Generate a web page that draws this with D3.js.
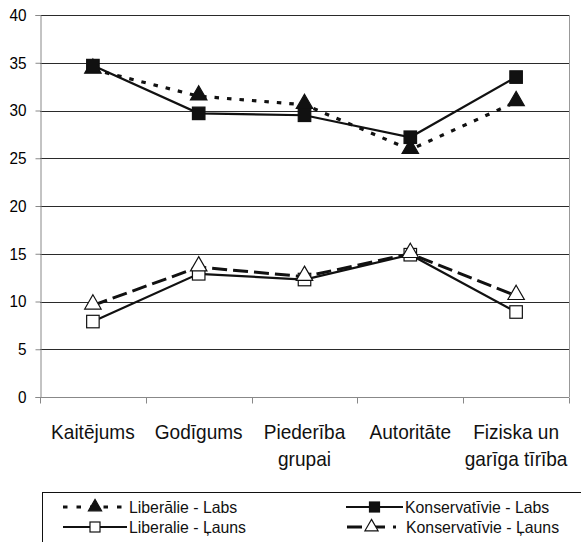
<!DOCTYPE html>
<html><head><meta charset="utf-8">
<script src="https://cdn.jsdelivr.net/npm/d3@7"></script>
<style>body{margin:0;background:#fff}svg{display:block}svg text{font-family:"Liberation Sans",Arial,sans-serif}</style>
</head><body>
<script>
const categories = [["Kaitējums"],["Godīgums"],["Piederība","grupai"],["Autoritāte"],["Fiziska un","garīga tīrība"]];
const yTicks = [0,5,10,15,20,25,30,35,40];
const liberaliLabs = [34.3, 31.5, 30.6, 25.9, 30.9];
const konservativieLabs = [34.7, 29.7, 29.5, 27.2, 33.5];
const liberaliLauns = [7.9, 12.9, 12.3, 14.9, 8.9];
const konservativieLauns = [9.6, 13.6, 12.6, 15.0, 10.6];
const seriesNames = ["Liberālie - Labs","Konservatīvie - Labs","Liberalie - Ļauns","Konservatīvie - Ļauns"];

const W=581,H=542;
const svg=d3.select("body").append("svg").attr("width",W).attr("height",H);
const m={l:40,r:569,t:15,b:397};
const x=d3.scaleBand().domain(d3.range(categories.length)).range([m.l,m.r]);
const y=d3.scaleLinear().domain([0,40]).range([m.b,m.t]);

svg.append("g").selectAll("line").data(yTicks.filter(d=>d>0)).join("line")
 .attr("x1",m.l).attr("x2",m.r).attr("y1",d=>Math.round(y(d))+0.5).attr("y2",d=>Math.round(y(d))+0.5)
 .attr("stroke","#2a2a2a").attr("stroke-width",1);
svg.append("line").attr("x1",m.r+0.5).attr("x2",m.r+0.5).attr("y1",m.t).attr("y2",m.b).attr("stroke","#999");

const ya=svg.append("g").attr("transform",`translate(${m.l+0.5},0)`)
 .call(d3.axisLeft(y).tickValues(yTicks).tickSize(5).tickPadding(9));
ya.attr("font-family",null);
ya.select(".domain").attr("stroke","#888");
ya.selectAll(".tick line").attr("stroke","#888");
ya.selectAll("text").attr("font-size",17).attr("fill","#000")
  .attr("x",-14/0.9).attr("transform","scale(0.9,1)");

const xa=svg.append("g").attr("transform",`translate(0,${m.b+0.5})`);
xa.append("line").attr("x1",m.l).attr("x2",m.r).attr("stroke","#888");
const edges=d3.range(categories.length+1).map(i=>m.l+i*x.step());
xa.selectAll("line.t").data(edges).join("line").attr("class","t")
 .attr("x1",d=>Math.round(d)+0.5).attr("x2",d=>Math.round(d)+0.5).attr("y1",0).attr("y2",6).attr("stroke","#888");
const labs=xa.selectAll("text").data(categories).join("text")
 .attr("text-anchor","middle").attr("font-size",20.5).attr("fill","#111")
 .attr("transform",(d,i)=>`translate(${x(i)+x.bandwidth()/2},0) scale(0.93,1)`);
labs.each(function(d){
  d3.select(this).selectAll("tspan").data(d).join("tspan").attr("x",0).attr("y",(t,j)=>42+j*27).text(t=>t);
});

const cx=i=>x(i)+x.bandwidth()/2;
const line=d3.line().x((d,i)=>cx(i)).y(d=>y(d));
const series=[
 {v:liberaliLabs,dash:"4.5,8",w:3.2,marker:"tri",fill:"#111"},
 {v:konservativieLabs,dash:null,w:2.2,marker:"sq",fill:"#111"},
 {v:liberaliLauns,dash:null,w:2.2,marker:"sq",fill:"#fff"},
 {v:konservativieLauns,dash:"15,6",w:3,marker:"tri",fill:"#fff"}
];
function drawMarker(g,kind,fill,px,py,s){
  if(kind==="sq"){
    g.append("rect").attr("x",px-s/2).attr("y",py-s/2).attr("width",s).attr("height",s)
     .attr("fill",fill).attr("stroke","#111").attr("stroke-width",1.2);
  } else {
    g.append("path").attr("d",d3.symbol().type(d3.symbolTriangle).size(s*s*0.75)())
     .attr("transform",`translate(${px},${py})`).attr("fill",fill).attr("stroke","#111").attr("stroke-width",1.2);
  }
}
series.forEach(s=>{
  svg.append("path").attr("d",line(s.v)).attr("fill","none").attr("stroke","#111")
   .attr("stroke-width",s.w).attr("stroke-dasharray",s.dash);
});
const mg=svg.append("g");
[series[2],series[3],series[0],series[1]].forEach(s=>{
  s.v.forEach((d,i)=>drawMarker(mg,s.marker,s.fill,cx(i),y(d)-(s.marker==="tri"?1:0),12.5));
});

svg.append("rect").attr("x",42.5).attr("y",492.5).attr("width",560).attr("height",80).attr("fill","none").attr("stroke","#111");
const leg=[
 {s:series[0],name:seriesNames[0],x1:63,x2:127,tx:129,y:507},
 {s:series[1],name:seriesNames[1],x1:346,x2:403,tx:405,y:507},
 {s:series[2],name:seriesNames[2],x1:63,x2:127,tx:129,y:527},
 {s:series[3],name:seriesNames[3],x1:347,x2:396,tx:406,y:527}
];
leg.forEach(l=>{
  const g=svg.append("g");
  g.append("line").attr("x1",l.x1).attr("x2",l.x2).attr("y1",l.y).attr("y2",l.y)
   .attr("stroke","#111").attr("stroke-width",l.s.w).attr("stroke-dasharray",l.s.dash?(l.s.dash==="15,6"?"15,8":"4.5,9"):null);
  drawMarker(g,l.s.marker,l.s.fill,(l.x1+l.x2)/2,l.y,10);
  g.append("text").attr("transform",`translate(${l.tx},${l.y+6}) scale(0.96,1)`).attr("font-size",16.5).attr("fill","#111").text(l.name);
});
</script>
</body></html>
